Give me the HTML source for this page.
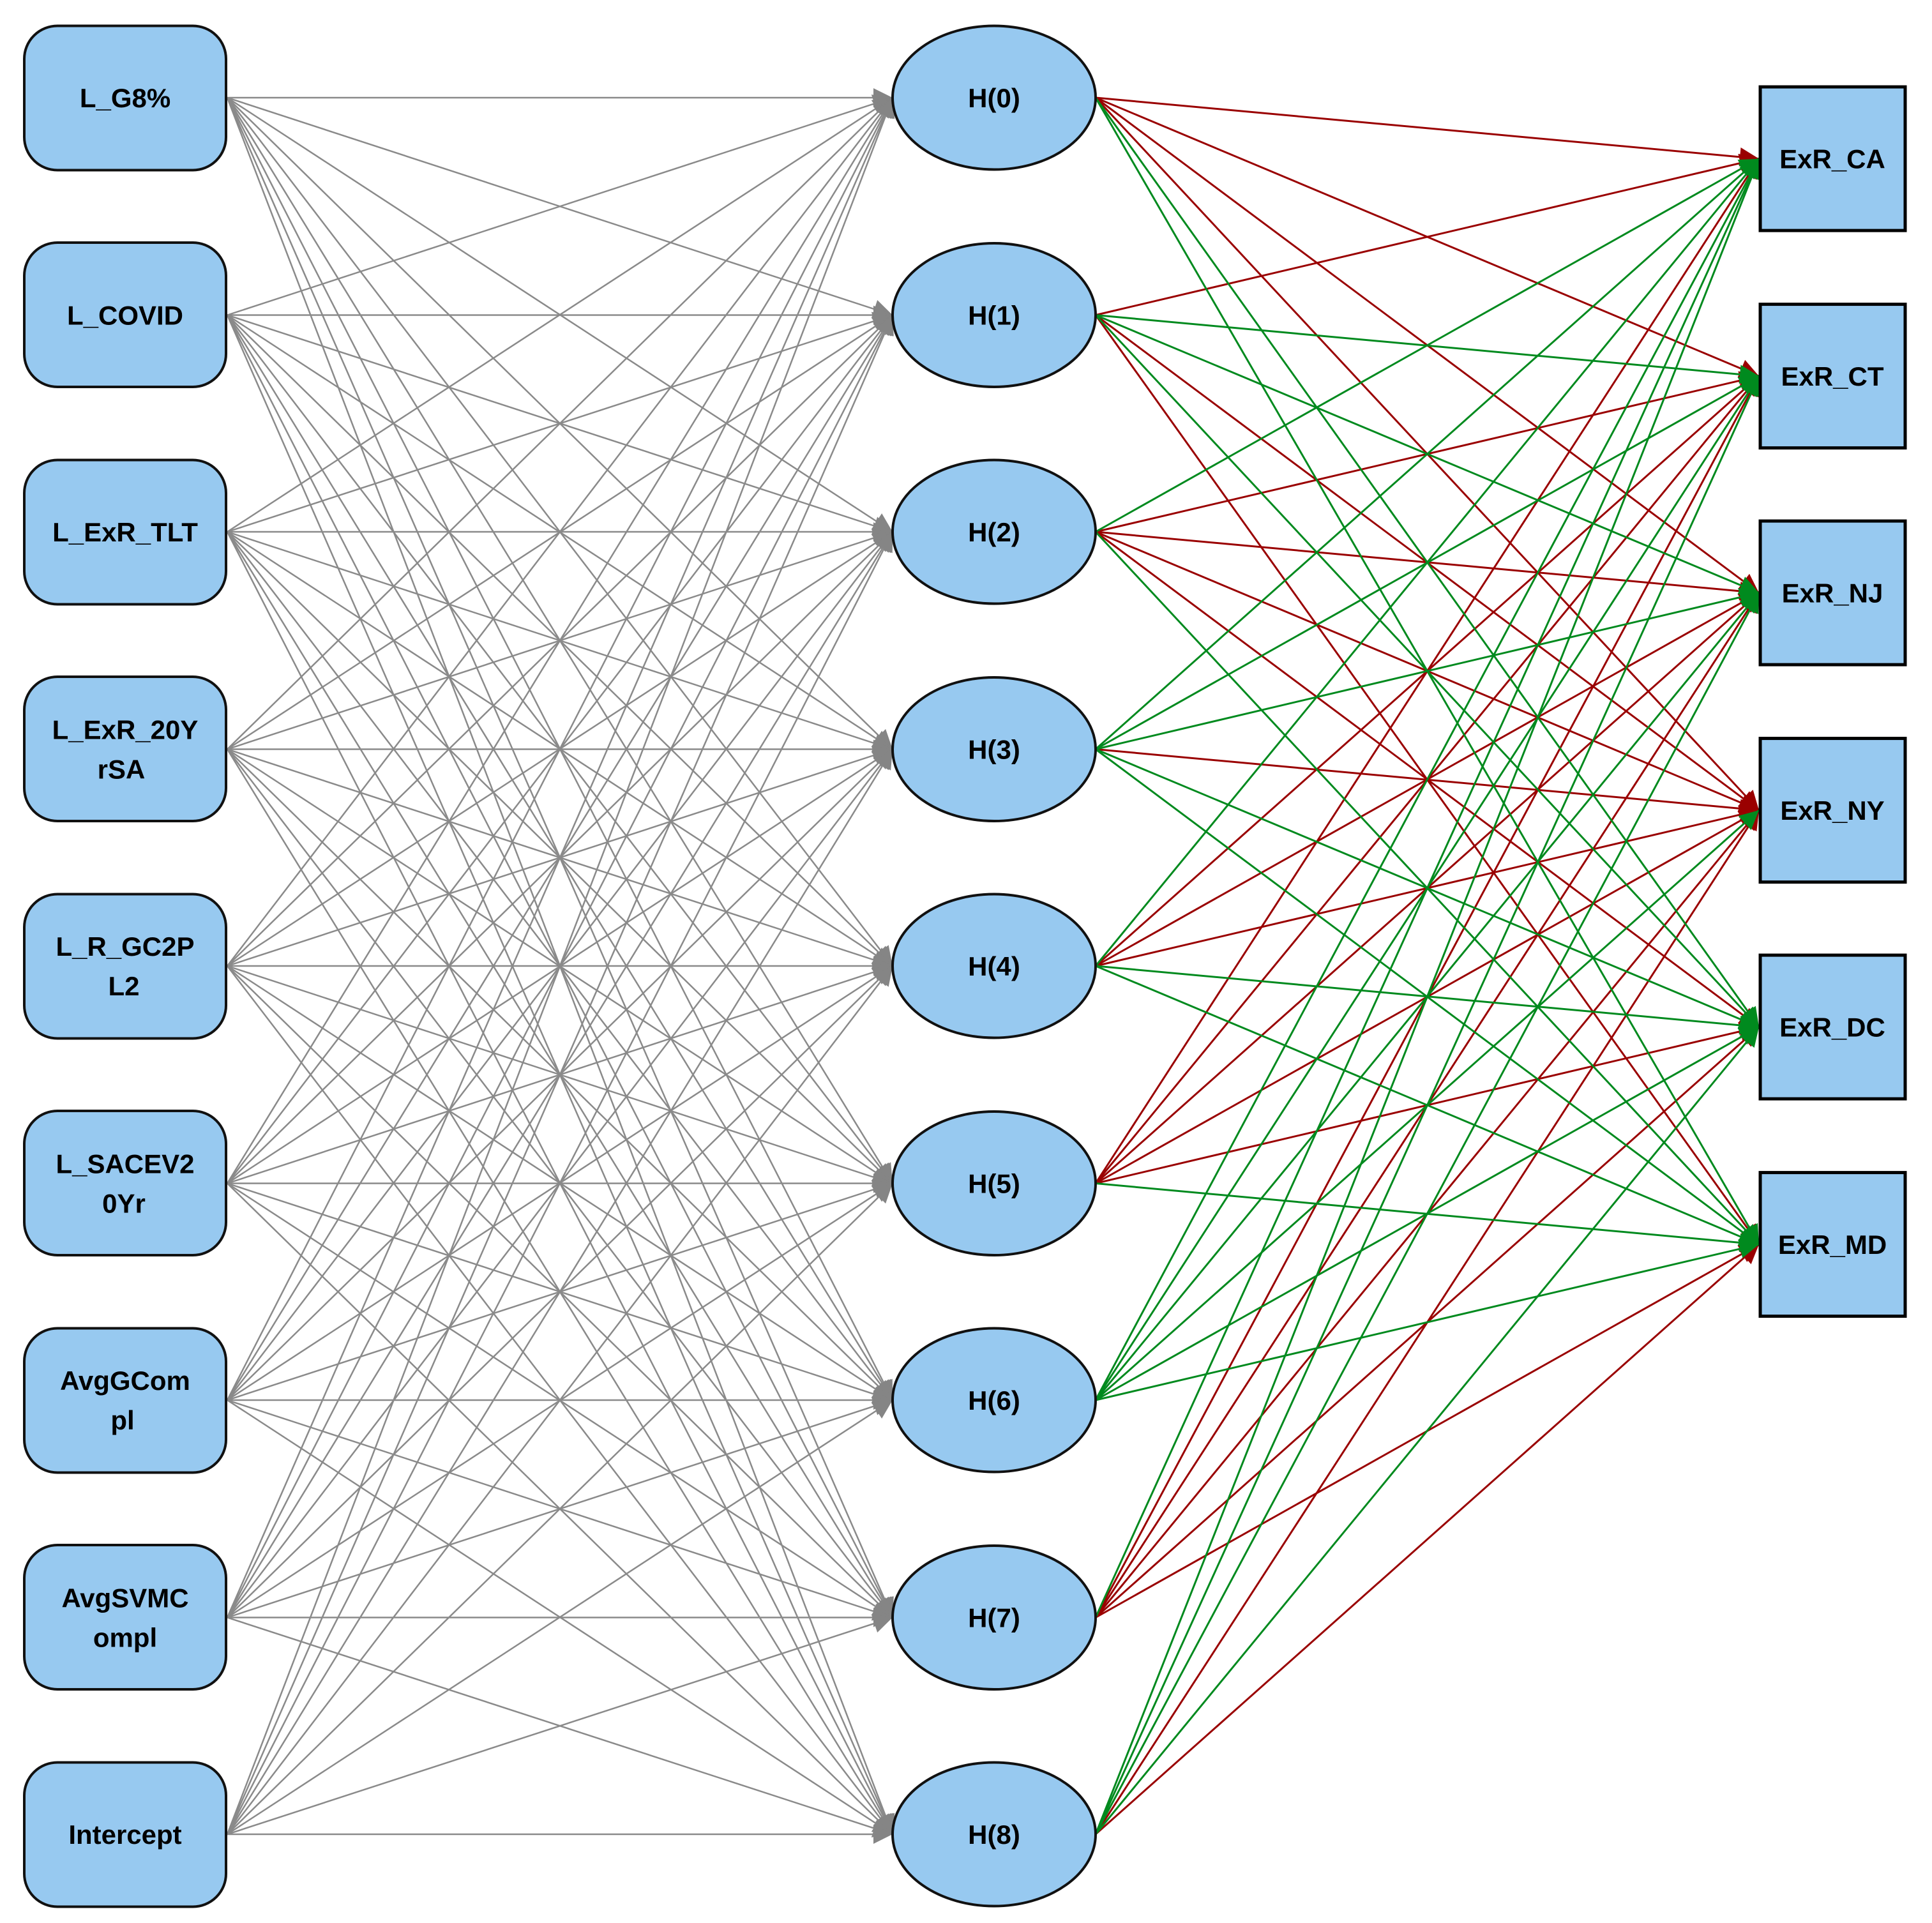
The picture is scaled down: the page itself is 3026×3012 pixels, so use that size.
<!DOCTYPE html>
<html><head><meta charset="utf-8"><style>
html,body{margin:0;padding:0;background:#fff;}
svg{display:block;}
text{font-family:"Liberation Sans",Arial,sans-serif;font-weight:bold;font-size:42px;fill:#000;text-anchor:middle;}
</style></head><body>
<svg width="3026" height="3012" viewBox="0 0 3026 3012" xmlns="http://www.w3.org/2000/svg">
<defs>
<marker id="ag" viewBox="0 0 10 10" refX="10" refY="5" markerWidth="36" markerHeight="30" markerUnits="userSpaceOnUse" orient="auto"><path d="M0,0L10,5L0,10z" fill="#858585"/></marker>
<marker id="ar" viewBox="0 0 10 10" refX="10" refY="5" markerWidth="36" markerHeight="30" markerUnits="userSpaceOnUse" orient="auto"><path d="M0,0L10,5L0,10z" fill="#9a0000"/></marker>
<marker id="agr" viewBox="0 0 10 10" refX="10" refY="5" markerWidth="36" markerHeight="30" markerUnits="userSpaceOnUse" orient="auto"><path d="M0,0L10,5L0,10z" fill="#008a1e"/></marker>
</defs>
<g transform="translate(0,153) scale(1,0.99561) translate(0,-153)">
<g stroke="#8a8a8a" stroke-width="2.5" marker-end="url(#ag)">
<line x1="356" y1="153" x2="1398" y2="153"/><line x1="356" y1="153" x2="1398" y2="495"/><line x1="356" y1="153" x2="1398" y2="836"/><line x1="356" y1="153" x2="1398" y2="1178"/><line x1="356" y1="153" x2="1398" y2="1519"/><line x1="356" y1="153" x2="1398" y2="1861"/><line x1="356" y1="153" x2="1398" y2="2202"/><line x1="356" y1="153" x2="1398" y2="2544"/><line x1="356" y1="153" x2="1398" y2="2885"/>
<line x1="356" y1="495" x2="1398" y2="153"/><line x1="356" y1="495" x2="1398" y2="495"/><line x1="356" y1="495" x2="1398" y2="836"/><line x1="356" y1="495" x2="1398" y2="1178"/><line x1="356" y1="495" x2="1398" y2="1519"/><line x1="356" y1="495" x2="1398" y2="1861"/><line x1="356" y1="495" x2="1398" y2="2202"/><line x1="356" y1="495" x2="1398" y2="2544"/><line x1="356" y1="495" x2="1398" y2="2885"/>
<line x1="356" y1="836" x2="1398" y2="153"/><line x1="356" y1="836" x2="1398" y2="495"/><line x1="356" y1="836" x2="1398" y2="836"/><line x1="356" y1="836" x2="1398" y2="1178"/><line x1="356" y1="836" x2="1398" y2="1519"/><line x1="356" y1="836" x2="1398" y2="1861"/><line x1="356" y1="836" x2="1398" y2="2202"/><line x1="356" y1="836" x2="1398" y2="2544"/><line x1="356" y1="836" x2="1398" y2="2885"/>
<line x1="356" y1="1178" x2="1398" y2="153"/><line x1="356" y1="1178" x2="1398" y2="495"/><line x1="356" y1="1178" x2="1398" y2="836"/><line x1="356" y1="1178" x2="1398" y2="1178"/><line x1="356" y1="1178" x2="1398" y2="1519"/><line x1="356" y1="1178" x2="1398" y2="1861"/><line x1="356" y1="1178" x2="1398" y2="2202"/><line x1="356" y1="1178" x2="1398" y2="2544"/><line x1="356" y1="1178" x2="1398" y2="2885"/>
<line x1="356" y1="1519" x2="1398" y2="153"/><line x1="356" y1="1519" x2="1398" y2="495"/><line x1="356" y1="1519" x2="1398" y2="836"/><line x1="356" y1="1519" x2="1398" y2="1178"/><line x1="356" y1="1519" x2="1398" y2="1519"/><line x1="356" y1="1519" x2="1398" y2="1861"/><line x1="356" y1="1519" x2="1398" y2="2202"/><line x1="356" y1="1519" x2="1398" y2="2544"/><line x1="356" y1="1519" x2="1398" y2="2885"/>
<line x1="356" y1="1861" x2="1398" y2="153"/><line x1="356" y1="1861" x2="1398" y2="495"/><line x1="356" y1="1861" x2="1398" y2="836"/><line x1="356" y1="1861" x2="1398" y2="1178"/><line x1="356" y1="1861" x2="1398" y2="1519"/><line x1="356" y1="1861" x2="1398" y2="1861"/><line x1="356" y1="1861" x2="1398" y2="2202"/><line x1="356" y1="1861" x2="1398" y2="2544"/><line x1="356" y1="1861" x2="1398" y2="2885"/>
<line x1="356" y1="2202" x2="1398" y2="153"/><line x1="356" y1="2202" x2="1398" y2="495"/><line x1="356" y1="2202" x2="1398" y2="836"/><line x1="356" y1="2202" x2="1398" y2="1178"/><line x1="356" y1="2202" x2="1398" y2="1519"/><line x1="356" y1="2202" x2="1398" y2="1861"/><line x1="356" y1="2202" x2="1398" y2="2202"/><line x1="356" y1="2202" x2="1398" y2="2544"/><line x1="356" y1="2202" x2="1398" y2="2885"/>
<line x1="356" y1="2544" x2="1398" y2="153"/><line x1="356" y1="2544" x2="1398" y2="495"/><line x1="356" y1="2544" x2="1398" y2="836"/><line x1="356" y1="2544" x2="1398" y2="1178"/><line x1="356" y1="2544" x2="1398" y2="1519"/><line x1="356" y1="2544" x2="1398" y2="1861"/><line x1="356" y1="2544" x2="1398" y2="2202"/><line x1="356" y1="2544" x2="1398" y2="2544"/><line x1="356" y1="2544" x2="1398" y2="2885"/>
<line x1="356" y1="2885" x2="1398" y2="153"/><line x1="356" y1="2885" x2="1398" y2="495"/><line x1="356" y1="2885" x2="1398" y2="836"/><line x1="356" y1="2885" x2="1398" y2="1178"/><line x1="356" y1="2885" x2="1398" y2="1519"/><line x1="356" y1="2885" x2="1398" y2="1861"/><line x1="356" y1="2885" x2="1398" y2="2202"/><line x1="356" y1="2885" x2="1398" y2="2544"/><line x1="356" y1="2885" x2="1398" y2="2885"/>
</g>
<g stroke="#9a0000" stroke-width="3" marker-end="url(#ar)">
<line x1="1716" y1="153" x2="2755" y2="249"/><line x1="1716" y1="153" x2="2755" y2="591"/><line x1="1716" y1="153" x2="2755" y2="932"/><line x1="1716" y1="153" x2="2755" y2="1274"/>
<line x1="1716" y1="495" x2="2755" y2="249"/><line x1="1716" y1="495" x2="2755" y2="1274"/><line x1="1716" y1="495" x2="2755" y2="1957"/>
<line x1="1716" y1="836" x2="2755" y2="591"/><line x1="1716" y1="836" x2="2755" y2="932"/><line x1="1716" y1="836" x2="2755" y2="1274"/><line x1="1716" y1="836" x2="2755" y2="1615"/>
<line x1="1716" y1="1178" x2="2755" y2="1274"/>
<line x1="1716" y1="1519" x2="2755" y2="591"/><line x1="1716" y1="1519" x2="2755" y2="932"/><line x1="1716" y1="1519" x2="2755" y2="1274"/>
<line x1="1716" y1="1861" x2="2755" y2="249"/><line x1="1716" y1="1861" x2="2755" y2="591"/><line x1="1716" y1="1861" x2="2755" y2="932"/><line x1="1716" y1="1861" x2="2755" y2="1274"/><line x1="1716" y1="1861" x2="2755" y2="1615"/>
<line x1="1716" y1="2544" x2="2755" y2="591"/><line x1="1716" y1="2544" x2="2755" y2="932"/><line x1="1716" y1="2544" x2="2755" y2="1274"/><line x1="1716" y1="2544" x2="2755" y2="1615"/><line x1="1716" y1="2544" x2="2755" y2="1957"/>
<line x1="1716" y1="2885" x2="2755" y2="1274"/><line x1="1716" y1="2885" x2="2755" y2="1957"/>
</g>
<g stroke="#008a1e" stroke-width="3" marker-end="url(#agr)">
<line x1="1716" y1="153" x2="2755" y2="1615"/><line x1="1716" y1="153" x2="2755" y2="1957"/>
<line x1="1716" y1="495" x2="2755" y2="591"/><line x1="1716" y1="495" x2="2755" y2="932"/><line x1="1716" y1="495" x2="2755" y2="1615"/>
<line x1="1716" y1="836" x2="2755" y2="249"/><line x1="1716" y1="836" x2="2755" y2="1957"/>
<line x1="1716" y1="1178" x2="2755" y2="249"/><line x1="1716" y1="1178" x2="2755" y2="591"/><line x1="1716" y1="1178" x2="2755" y2="932"/><line x1="1716" y1="1178" x2="2755" y2="1615"/><line x1="1716" y1="1178" x2="2755" y2="1957"/>
<line x1="1716" y1="1519" x2="2755" y2="249"/><line x1="1716" y1="1519" x2="2755" y2="1615"/><line x1="1716" y1="1519" x2="2755" y2="1957"/>
<line x1="1716" y1="1861" x2="2755" y2="1957"/>
<line x1="1716" y1="2202" x2="2755" y2="249"/><line x1="1716" y1="2202" x2="2755" y2="591"/><line x1="1716" y1="2202" x2="2755" y2="932"/><line x1="1716" y1="2202" x2="2755" y2="1274"/><line x1="1716" y1="2202" x2="2755" y2="1615"/><line x1="1716" y1="2202" x2="2755" y2="1957"/>
<line x1="1716" y1="2544" x2="2755" y2="249"/>
<line x1="1716" y1="2885" x2="2755" y2="249"/><line x1="1716" y1="2885" x2="2755" y2="591"/><line x1="1716" y1="2885" x2="2755" y2="932"/><line x1="1716" y1="2885" x2="2755" y2="1615"/>
</g>
<g fill="#97c9f0" stroke="#111" stroke-width="4">
<rect x="38" y="40" width="316" height="227" rx="52"/>
<rect x="38" y="381" width="316" height="227" rx="52"/>
<rect x="38" y="723" width="316" height="227" rx="52"/>
<rect x="38" y="1064" width="316" height="227" rx="52"/>
<rect x="38" y="1406" width="316" height="227" rx="52"/>
<rect x="38" y="1747" width="316" height="227" rx="52"/>
<rect x="38" y="2089" width="316" height="227" rx="52"/>
<rect x="38" y="2430" width="316" height="227" rx="52"/>
<rect x="38" y="2772" width="316" height="227" rx="52"/>
<ellipse cx="1557" cy="153" rx="159" ry="113"/>
<ellipse cx="1557" cy="495" rx="159" ry="113"/>
<ellipse cx="1557" cy="836" rx="159" ry="113"/>
<ellipse cx="1557" cy="1178" rx="159" ry="113"/>
<ellipse cx="1557" cy="1519" rx="159" ry="113"/>
<ellipse cx="1557" cy="1861" rx="159" ry="113"/>
<ellipse cx="1557" cy="2202" rx="159" ry="113"/>
<ellipse cx="1557" cy="2544" rx="159" ry="113"/>
<ellipse cx="1557" cy="2885" rx="159" ry="113"/>
</g>
<g fill="#97c9f0" stroke="#000" stroke-width="5">
<rect x="2757" y="136" width="227" height="226"/>
<rect x="2757" y="478" width="227" height="226"/>
<rect x="2757" y="819" width="227" height="226"/>
<rect x="2757" y="1161" width="227" height="226"/>
<rect x="2757" y="1502" width="227" height="226"/>
<rect x="2757" y="1844" width="227" height="226"/>
</g>
<text x="196" y="168">L_G8%</text>
<text x="196" y="510">L_COVID</text>
<text x="196" y="851">L_ExR_TLT</text>
<text x="196" y="1162">L_ExR_20Y</text><text x="190" y="1224">rSA</text>
<text x="196" y="1503">L_R_GC2P</text><text x="194" y="1565">L2</text>
<text x="196" y="1845">L_SACEV2</text><text x="194" y="1907">0Yr</text>
<text x="196" y="2186">AvgGCom</text><text x="192" y="2248">pl</text>
<text x="196" y="2528">AvgSVMC</text><text x="196" y="2590">ompl</text>
<text x="196" y="2900">Intercept</text>
<text x="1557" y="168">H(0)</text>
<text x="1557" y="510">H(1)</text>
<text x="1557" y="851">H(2)</text>
<text x="1557" y="1193">H(3)</text>
<text x="1557" y="1534">H(4)</text>
<text x="1557" y="1876">H(5)</text>
<text x="1557" y="2217">H(6)</text>
<text x="1557" y="2559">H(7)</text>
<text x="1557" y="2900">H(8)</text>
<text x="2870" y="264">ExR_CA</text>
<text x="2870" y="606">ExR_CT</text>
<text x="2870" y="947">ExR_NJ</text>
<text x="2870" y="1289">ExR_NY</text>
<text x="2870" y="1630">ExR_DC</text>
<text x="2870" y="1972">ExR_MD</text>
</g>
</svg>
</body></html>
